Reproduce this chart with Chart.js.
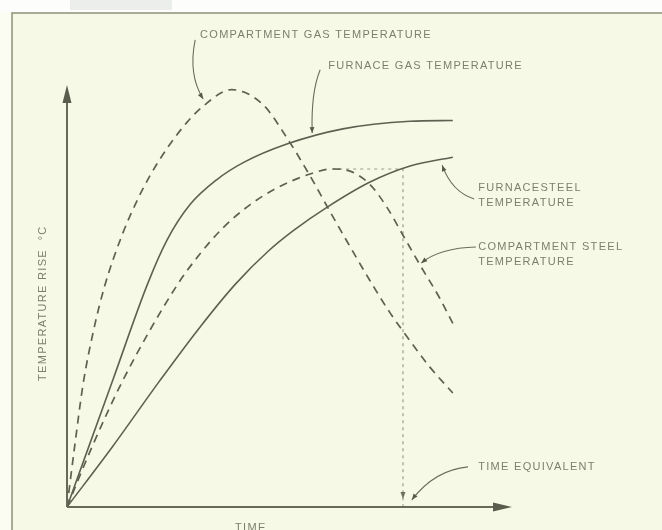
<!DOCTYPE html>
<html>
<head>
<meta charset="utf-8">
<script src="https://cdn.jsdelivr.net/npm/chart.js@4"></script>
<style>
  html, body { margin: 0; padding: 0; background: #fbfdf2; }
  canvas { display: block; }
</style>
</head>
<body>
<canvas id="chart" width="662" height="530"></canvas>
<script>
// time and temperature rise in arbitrary units (0-100 along each axis)
const COMP_GAS_TIME = [0, 1.8, 3.6, 6.0, 8.5, 12.4, 15.7, 18.7, 22.5, 27.0, 30.6, 37.0, 44.0, 49.4, 54.6, 59.1, 63.0, 68.1, 72.6, 77.0, 81.5, 86.7];
const COMP_GAS_RISE = [0, 15.0, 29.0, 42.0, 52.5, 64.5, 72.5, 78.6, 85.0, 91.2, 95.0, 98.9, 95.4, 87.5, 78.5, 70.0, 62.8, 53.6, 46.0, 39.5, 33.2, 27.0];

const FURN_GAS_TIME = [0, 10.3, 18.2, 22.5, 27.6, 33.7, 39.6, 49.4, 62.0, 77.1, 86.7];
const FURN_GAS_RISE = [0, 30.1, 53.1, 63.3, 71.6, 77.6, 81.6, 86.0, 89.6, 91.4, 91.6];

const COMP_STEEL_TIME = [0, 5.6, 12.6, 24.7, 29.9, 35.1, 41.1, 47.0, 54.6, 59.6, 63.6, 68.1, 71.9, 75.5, 79.3, 83.8, 86.7];
const COMP_STEEL_RISE = [0, 14.2, 30.1, 52.5, 60.0, 66.2, 71.6, 75.5, 78.9, 80.1, 79.6, 76.4, 71.0, 64.4, 57.4, 49.4, 43.5];

const FURN_STEEL_TIME = [0, 10.3, 20.9, 30.0, 38.0, 45.2, 51.0, 58.4, 68.1, 77.1, 86.7];
const FURN_STEEL_RISE = [0, 14.4, 30.0, 42.8, 53.0, 60.6, 65.6, 71.0, 77.0, 80.8, 82.9];

// peak of compartment steel, read across to the furnace steel curve
const STEEL_PEAK_TIME = 59.6;
const STEEL_PEAK_RISE = 80.1;
const TIME_EQUIVALENT = 75.5;

const X_TITLE = "TIME";
const Y_TITLE = "TEMPERATURE RISE  °C";

// callouts: text anchor and a curved leader (start, control, arrow tip), in axis units
const CALLOUTS = [
  { lines: ["COMPARTMENT GAS TEMPERATURE"], at: [29.9, 111.8], leader: [[28.8, 110.7], [27.2, 102.4], [30.6, 96.7]] },
  { lines: ["FURNACE GAS TEMPERATURE"], at: [58.7, 104.5], leader: [[56.9, 103.6], [54.8, 98.3], [55.1, 88.6]] },
  { lines: ["FURNACESTEEL", "TEMPERATURE"], at: [92.4, 75.6], leader: [[91.5, 73.0], [86.5, 74.6], [84.3, 81.0]] },
  { lines: ["COMPARTMENT STEEL", "TEMPERATURE"], at: [92.4, 61.6], leader: [[91.9, 61.6], [83.8, 61.4], [79.6, 57.8]] },
  { lines: ["TIME EQUIVALENT"], at: [92.4, 9.5], leader: [[90.1, 9.5], [82.7, 8.8], [77.5, 1.7]] },
];

const INK = "#5d6151";
const TEXT = "#7b7f6e";
const FONT = "11px 'Liberation Sans', Arial, sans-serif";

const pts = (xs, ys) => xs.map((x, i) => ({ x, y: ys[i] }));

function arrowHead(ctx, fromX, fromY, tipX, tipY, len, half) {
  const a = Math.atan2(tipY - fromY, tipX - fromX);
  ctx.beginPath();
  ctx.moveTo(tipX, tipY);
  ctx.lineTo(tipX - len * Math.cos(a) + half * Math.sin(a), tipY - len * Math.sin(a) - half * Math.cos(a));
  ctx.lineTo(tipX - len * Math.cos(a) - half * Math.sin(a), tipY - len * Math.sin(a) + half * Math.cos(a));
  ctx.closePath();
  ctx.fill();
}

const decor = {
  id: "decor",
  beforeDraw(chart) {
    const ctx = chart.ctx;
    ctx.save();
    ctx.fillStyle = "#f6f9e6";
    ctx.fillRect(12, 13, chart.width - 12, chart.height - 13);
    ctx.fillStyle = "#fdfefb";
    ctx.fillRect(0, 0, chart.width, 12);
    ctx.fillStyle = "#eceeec";
    ctx.fillRect(70, 0, 102, 10);
    // scanned frame
    ctx.strokeStyle = "#8d9179";
    ctx.lineWidth = 1.5;
    ctx.beginPath();
    ctx.moveTo(chart.width, 13);
    ctx.lineTo(12, 13);
    ctx.lineTo(12, chart.height);
    ctx.stroke();
    ctx.restore();
  },
  afterDatasetsDraw(chart) {
    const ctx = chart.ctx;
    const sx = chart.scales.x, sy = chart.scales.y;
    const px = (v) => sx.getPixelForValue(v);
    const py = (v) => sy.getPixelForValue(v);
    ctx.save();

    // axes with arrow heads
    const x0 = px(0), y0 = py(0), xEnd = px(sx.max), yEnd = py(sy.max);
    ctx.strokeStyle = "#676a59";
    ctx.fillStyle = "#5a5d4d";
    ctx.lineWidth = 2;
    ctx.beginPath();
    ctx.moveTo(x0, y0);
    ctx.lineTo(x0, yEnd + 10);
    ctx.moveTo(x0, y0);
    ctx.lineTo(xEnd - 10, y0);
    ctx.stroke();
    arrowHead(ctx, x0, y0, x0, yEnd, 18, 4.5);
    arrowHead(ctx, x0, y0, xEnd, y0, 19, 4.5);

    // small arrow where the time equivalent meets the axis
    ctx.fillStyle = "#6e7261";
    arrowHead(ctx, px(TIME_EQUIVALENT), py(5), px(TIME_EQUIVALENT), y0 - 8, 7, 2.5);

    // callouts
    ctx.font = FONT;
    ctx.letterSpacing = "1.3px";
    ctx.fillStyle = TEXT;
    ctx.textBaseline = "middle";
    ctx.textAlign = "left";
    CALLOUTS.forEach((c) => {
      c.lines.forEach((t, i) => ctx.fillText(t, px(c.at[0]), py(c.at[1]) + i * 15));
      const [s, k, e] = c.leader;
      ctx.strokeStyle = "#6a6e5d";
      ctx.lineWidth = 1.1;
      ctx.beginPath();
      ctx.moveTo(px(s[0]), py(s[1]));
      ctx.quadraticCurveTo(px(k[0]), py(k[1]), px(e[0]), py(e[1]));
      ctx.stroke();
      ctx.fillStyle = "#55594a";
      arrowHead(ctx, px(k[0]), py(k[1]), px(e[0]), py(e[1]), 6, 2.4);
      ctx.fillStyle = TEXT;
    });

    // axis titles
    ctx.textAlign = "center";
    ctx.fillText(X_TITLE, px(41.3), py(-4.9));
    ctx.translate(px(-5.4), py(48.3));
    ctx.rotate(-Math.PI / 2);
    ctx.fillText(Y_TITLE, 0, 0);
    ctx.restore();
  },
};

const line = (data, dashed) => ({
  data,
  showLine: true,
  pointRadius: 0,
  borderColor: INK,
  borderWidth: dashed ? 1.7 : 1.6,
  borderDash: dashed ? [8, 6] : [],
  cubicInterpolationMode: "monotone",
});

new Chart(document.getElementById("chart"), {
  type: "scatter",
  data: {
    datasets: [
      line(pts(COMP_GAS_TIME, COMP_GAS_RISE), true),
      line(pts(FURN_GAS_TIME, FURN_GAS_RISE), false),
      line(pts(COMP_STEEL_TIME, COMP_STEEL_RISE), true),
      line(pts(FURN_STEEL_TIME, FURN_STEEL_RISE), false),
      {
        data: [
          { x: STEEL_PEAK_TIME, y: STEEL_PEAK_RISE },
          { x: TIME_EQUIVALENT, y: STEEL_PEAK_RISE },
          { x: TIME_EQUIVALENT, y: 0 },
        ],
        showLine: true,
        pointRadius: 0,
        borderColor: "#999d89",
        borderWidth: 1.2,
        borderDash: [3, 4],
        tension: 0,
      },
    ],
  },
  options: {
    responsive: false,
    animation: false,
    devicePixelRatio: 1,
    layout: { padding: { left: 67, right: 150, top: 85, bottom: 23 } },
    plugins: { legend: { display: false }, tooltip: { enabled: false } },
    scales: {
      x: { type: "linear", min: 0, max: 100, display: false },
      y: { type: "linear", min: 0, max: 100, display: false },
    },
  },
  plugins: [decor],
});
</script>
</body>
</html>
